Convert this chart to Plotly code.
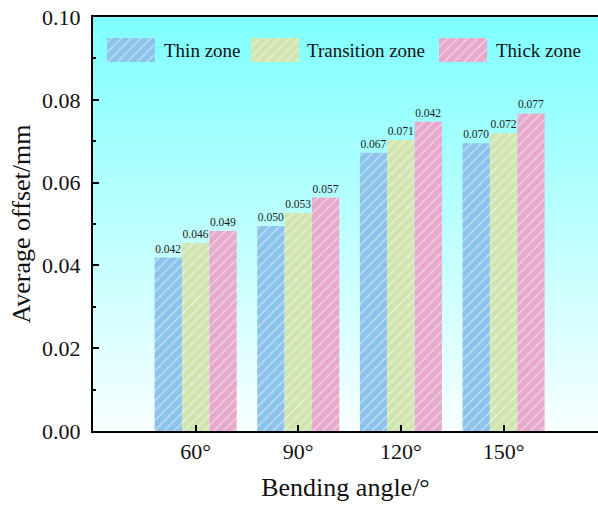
import base64, struct, zlib
import plotly.graph_objects as go

# ---------------- data ----------------
categories = ["60°", "90°", "120°", "150°"]
series_names = ["Thin zone", "Transition zone", "Thick zone"]
thin_values = [0.0419, 0.0495, 0.0672, 0.0695]
transition_values = [0.0455, 0.0527, 0.0703, 0.0719]
thick_values = [0.0483, 0.0564, 0.0747, 0.0767]
thin_labels = ["0.042", "0.050", "0.067", "0.070"]
transition_labels = ["0.046", "0.053", "0.071", "0.072"]
thick_labels = ["0.049", "0.057", "0.042", "0.077"]

# ---------------- style ----------------
FONT = "Liberation Serif, Times New Roman, serif"
colors = ["#8CC3EC", "#D1E5B1", "#E6A9CC"]
W, H = 598, 508
M_L, M_R, M_T, M_B = 93, 0, 17, 77
PW, PH = W - M_L - M_R, H - M_T - M_B
HATCH = dict(shape="/", fgcolor="white", size=7, solidity=0.18)


def gradient_png(top, bottom, n=256):
    rows = b""
    for i in range(n):
        t = i / (n - 1)
        px = bytes(int(round(top[k] + (bottom[k] - top[k]) * t)) for k in range(3))
        rows += b"\x00" + px
    def chunk(tag, data):
        c = struct.pack(">I", len(data)) + tag + data
        return c + struct.pack(">I", zlib.crc32(tag + data) & 0xffffffff)
    png = b"\x89PNG\r\n\x1a\n"
    png += chunk(b"IHDR", struct.pack(">IIBBBBB", 1, n, 8, 2, 0, 0, 0))
    png += chunk(b"IDAT", zlib.compress(rows))
    png += chunk(b"IEND", b"")
    return "data:image/png;base64," + base64.b64encode(png).decode()


fig = go.Figure()
for name, vals, labs, col in zip(series_names,
                                 [thin_values, transition_values, thick_values],
                                 [thin_labels, transition_labels, thick_labels],
                                 colors):
    fig.add_trace(go.Bar(
        x=categories, y=vals, name=name, text=labs,
        textposition="outside", constraintext="none", cliponaxis=False,
        textfont=dict(family=FONT, size=11.5, color="#1a1a1a"),
        marker=dict(color=col, line=dict(width=0),
                    pattern=dict(HATCH, bgcolor=col)),
        showlegend=False,
    ))

# ---- custom legend (pixel coordinates within plot area, from top-left) ----
legend_swatch_x = [14, 158, 346]
legend_text_x = [69, 212, 401]
sw_w, sw_top, sw_h = 48, 21, 24
for name, col, sx, tx in zip(series_names, colors, legend_swatch_x, legend_text_x):
    fig.add_trace(go.Bar(
        x=[sx + sw_w / 2], y=[sw_h], base=[sw_top], width=[sw_w],
        xaxis="x3", yaxis="y3", showlegend=False, hoverinfo="skip",
        marker=dict(color=col, line=dict(width=0),
                    pattern=dict(HATCH, bgcolor=col)),
    ))
    fig.add_annotation(x=tx, y=sw_top + sw_h / 2, xref="x3", yref="y3",
                       text=name, showarrow=False, xanchor="left", yanchor="middle",
                       font=dict(family=FONT, size=19, color="#111"))

fig.update_layout(
    width=W, height=H,
    margin=dict(l=M_L, r=M_R, t=M_T, b=M_B),
    paper_bgcolor="white", plot_bgcolor="rgba(0,0,0,0)",
    barmode="group", bargap=0.2, bargroupgap=0,
    font=dict(family=FONT, color="#111"),
    images=[dict(source=gradient_png((128, 255, 255), (248, 255, 255)),
                 xref="paper", yref="paper", x=0, y=1, sizex=1, sizey=1,
                 xanchor="left", yanchor="top", sizing="stretch", layer="below")],
    xaxis=dict(
        range=[-1, 3.92], showline=True, linecolor="black", linewidth=2,
        mirror=True, ticks="inside", ticklen=6, tickwidth=1.5, tickcolor="black",
        tickfont=dict(family=FONT, size=22, color="#111"), showgrid=False,
        title=dict(text="Bending angle/°", font=dict(family=FONT, size=26, color="#111"),
                   standoff=14),
    ),
    yaxis=dict(
        range=[0, 0.1], dtick=0.02, tickformat=".2f",
        showline=True, linecolor="black", linewidth=2, mirror=False,
        ticks="inside", ticklen=6, tickwidth=1.5, tickcolor="black",
        minor=dict(ticks="inside", ticklen=3, dtick=0.01, tickcolor="black", tickwidth=1.5),
        tickfont=dict(family=FONT, size=22, color="#111"),
        ticklabelstandoff=6,
        showgrid=False, zeroline=False,
        title=dict(text="Average offset/mm", font=dict(family=FONT, size=26, color="#111"),
                   standoff=4),
    ),
    xaxis3=dict(overlaying="x", range=[0, PW], visible=False, anchor="y3"),
    yaxis3=dict(overlaying="y", range=[PH, 0], visible=False, anchor="x3"),
)

fig.write_html("out.html")
